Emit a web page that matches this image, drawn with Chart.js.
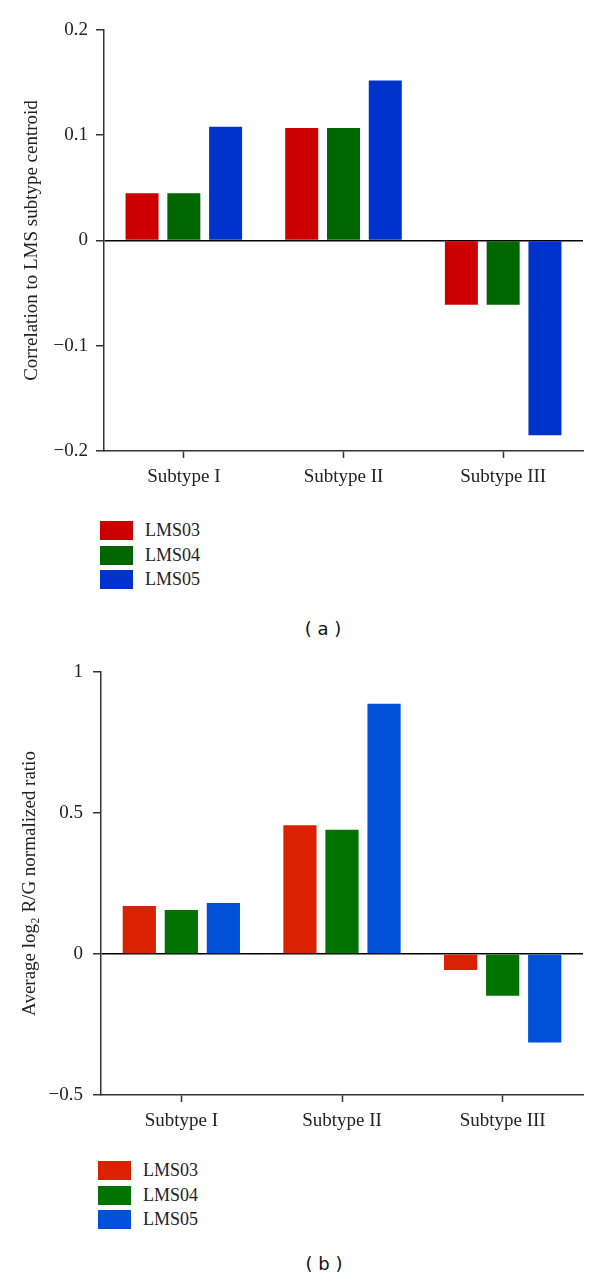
<!DOCTYPE html>
<html>
<head>
<meta charset="utf-8">
<script src="https://cdn.jsdelivr.net/npm/chart.js@4"></script>
<style>
  html, body { margin: 0; padding: 0; background: #fff; }
  #page { position: relative; width: 600px; height: 1281px; overflow: hidden; }
  .panel { position: absolute; left: 0; }
  .legend-row {
    position: absolute; display: flex; align-items: center; height: 19px;
    font: 18px "Liberation Serif", serif; color: #222; line-height: 19px;
  }
  .legend-box { width: 33px; height: 19px; margin-right: 12px; }
  .caption {
    position: absolute; width: 100px; text-align: center;
    font: 18px "DejaVu Sans", sans-serif; color: #111; line-height: 22px;
  }
</style>
</head>
<body>
<div id="page">
  <canvas id="chartA" class="panel" width="600" height="500" style="top:0"></canvas>
  <canvas id="chartB" class="panel" width="600" height="500" style="top:640px"></canvas>
  <div class="caption" style="left:273px; top:618px">( a )</div>
  <div class="caption" style="left:274px; top:1253px">( b )</div>
</div>
<script>
const categories = ["Subtype I", "Subtype II", "Subtype III"];
const seriesNames = ["LMS03", "LMS04", "LMS05"];

// (a) correlation to LMS subtype centroid
const corrLMS03 = [0.045, 0.107, -0.061];
const corrLMS04 = [0.045, 0.107, -0.061];
const corrLMS05 = [0.108, 0.152, -0.185];
const yTicksA = [-0.2, -0.1, 0, 0.1, 0.2];
const colorsA = ["#cc0000", "#006600", "#0033cc"];

// (b) average log2 R/G normalized ratio
const ratioLMS03 = [0.170, 0.457, -0.057];
const ratioLMS04 = [0.156, 0.441, -0.148];
const ratioLMS05 = [0.181, 0.887, -0.314];
const yTicksB = [-0.5, 0, 0.5, 1];
const colorsB = ["#da2200", "#007300", "#0050d8"];

const SERIF = "'Liberation Serif', 'DejaVu Serif', serif";
const AXIS_COLOR = "#333";

function formatTick(value) {
  // the figure uses a real minus sign
  return value < 0 ? "\u2212" + Math.abs(value) : String(value);
}

function makeBarChart(canvasId, opts) {
  const datasets = opts.series.map((values, i) => ({
    label: seriesNames[i],
    data: values,
    backgroundColor: opts.colors[i],
    borderWidth: 0,
    categoryPercentage: 0.785,
    barPercentage: 0.79,
  }));

  return new Chart(document.getElementById(canvasId), {
    type: "bar",
    data: { labels: categories, datasets: datasets },
    options: {
      responsive: false,
      animation: false,
      layout: { padding: { top: opts.padTop, right: 17, left: 0, bottom: 0 } },
      plugins: { legend: { display: false }, tooltip: { enabled: false } },
      scales: {
        x: {
          offset: true,
          border: { display: true, color: AXIS_COLOR, width: 1.5 },
          grid: {
            offset: false,
            drawOnChartArea: false,
            tickLength: 7,
            tickColor: AXIS_COLOR,
            tickWidth: 1.5,
          },
          ticks: { color: "#222", padding: 8, font: { family: SERIF, size: 19 } },
          afterFit: (axis) => { axis.height = opts.xHeight; },
        },
        y: {
          min: opts.yTicks[0],
          max: opts.yTicks[opts.yTicks.length - 1],
          border: { display: true, color: AXIS_COLOR, width: 1.5 },
          grid: {
            // only the zero line is drawn across the plot
            color: (ctx) => (ctx.tick && ctx.tick.value === 0 ? "#000" : "rgba(0,0,0,0)"),
            lineWidth: 1.5,
            tickLength: 8,
            tickColor: AXIS_COLOR,
            tickWidth: 1.5,
          },
          ticks: {
            color: "#222",
            padding: opts.tickPad,
            font: { family: SERIF, size: 19 },
            callback: formatTick,
          },
          afterBuildTicks: (axis) => {
            axis.ticks = opts.yTicks.map((v) => ({ value: v }));
          },
          title: {
            display: true,
            text: opts.title,
            color: "#222",
            font: { family: SERIF, size: 19 },
            padding: { top: opts.titlePad, bottom: 0 },
          },
          afterFit: (axis) => { axis.width = opts.yWidth; },
        },
      },
    },
  });
}

function buildLegend(colors, left, top) {
  const page = document.getElementById("page");
  seriesNames.forEach((name, i) => {
    const row = document.createElement("div");
    row.className = "legend-row";
    row.style.left = left + "px";
    row.style.top = top + i * 24.5 + "px";
    const box = document.createElement("span");
    box.className = "legend-box";
    box.style.background = colors[i];
    row.appendChild(box);
    row.appendChild(document.createTextNode(name));
    page.appendChild(row);
  });
}

makeBarChart("chartA", {
  series: [corrLMS03, corrLMS04, corrLMS05],
  colors: colorsA,
  yTicks: yTicksA,
  title: "Correlation to LMS subtype centroid",
  padTop: 30,
  xHeight: 49,
  yWidth: 104,
  tickPad: 8,
  titlePad: 21,
});

makeBarChart("chartB", {
  series: [ratioLMS03, ratioLMS04, ratioLMS05],
  colors: colorsB,
  yTicks: yTicksB,
  title: "Average log\u2082 R/G normalized ratio",
  padTop: 32,
  xHeight: 45,
  yWidth: 101,
  tickPad: 10,
  titlePad: 19,
});

buildLegend(colorsA, 100, 521);
buildLegend(colorsB, 98, 1161);
</script>
</body>
</html>
